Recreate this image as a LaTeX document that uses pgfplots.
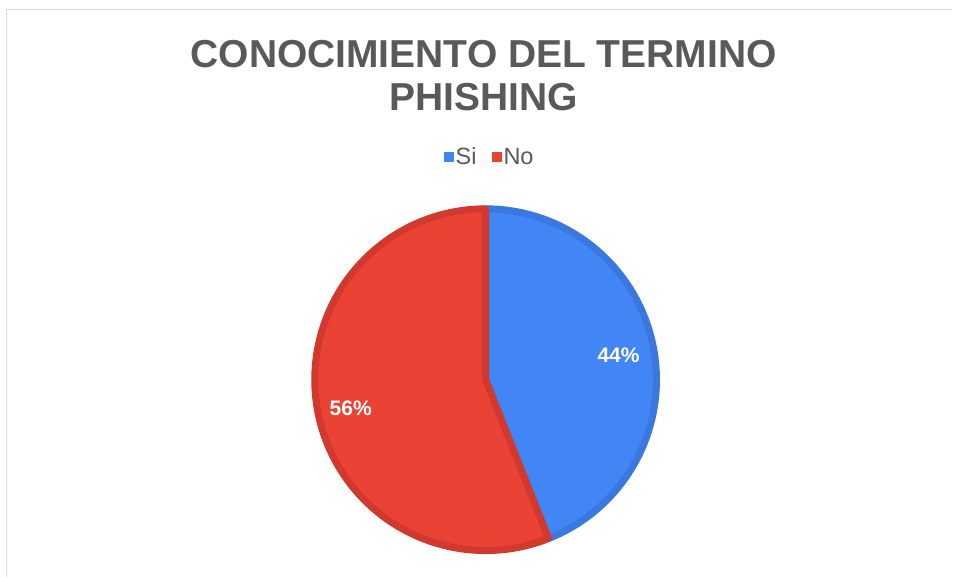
\documentclass[border=0pt]{standalone}
\usepackage{pgfplots}
\pgfplotsset{compat=1.18}
\usepackage{fontspec}
\setmainfont{Liberation Sans}
\definecolor{pieBlue}{HTML}{4285F4}
\definecolor{pieBlueD}{HTML}{3A78E0}
\definecolor{pieRed}{HTML}{EA4335}
\definecolor{pieRedD}{HTML}{D2392E}
\definecolor{titleGray}{HTML}{595959}
\definecolor{frameGray}{HTML}{D9D9D9}
\def\vSi{44}
\def\vNo{56}
\begin{document}
\begin{tikzpicture}
\pgfmathsetmacro\aStart{90}
\pgfmathsetmacro\aMid{90-3.6*\vSi}
\pgfmathsetmacro\aEnd{\aMid-3.6*\vNo}
\begin{axis}[scale only axis, width=953pt, height=577pt,
  xmin=0, xmax=953, ymin=-577, ymax=0, hide axis, clip=false,
  legend style={at={(axis cs:490,-157)}, anchor=center, draw=none, fill=none,
    legend columns=2, font=\fontsize{23.5}{26}\selectfont\color{titleGray},
    /tikz/every even column/.append style={column sep=14pt},
    /tikz/every odd column/.append style={column sep=0pt},
    /tikz/every node/.append style={inner xsep=1.5pt}},
  legend cell align=left]
\path (axis cs:0,0) rectangle (axis cs:953,-577);
\draw[frameGray, line width=1.5pt] (axis cs:6.5,-577) -- (axis cs:6.5,-9.5) -- (axis cs:953,-9.5);
\addplot[fill=pieBlue, draw=pieBlueD, line width=7pt, line join=round,
  domain=\aMid:\aStart, samples=150, variable=\t,
  legend image code/.code={\path[fill=pieBlue, draw=none] (0pt,-5pt) rectangle (10pt,5pt);}]
  ({486+171*cos(\t)},{-380+171*sin(\t)}) -- (axis cs:486,-380) -- cycle;
\addlegendentry{Si}
\addplot[fill=pieRed, draw=pieRedD, line width=7pt, line join=round,
  domain=\aEnd:\aMid, samples=150, variable=\t,
  legend image code/.code={\path[fill=pieRed, draw=none] (0pt,-5pt) rectangle (10pt,5pt);}]
  ({486+171*cos(\t)},{-380+171*sin(\t)}) -- (axis cs:486,-380) -- cycle;
\addlegendentry{No}
\node[anchor=base, text=titleGray, font=\bfseries\fontsize{39}{44}\selectfont] at (axis cs:484,-68) {CONOCIMIENTO DEL TERMINO};
\node[anchor=base, text=titleGray, font=\bfseries\fontsize{39}{44}\selectfont] at (axis cs:484,-111) {PHISHING};
\node[text=white, font=\bfseries\fontsize{21}{24}\selectfont] at (axis cs:619,-356) {44\%};
\node[text=white, font=\bfseries\fontsize{21}{24}\selectfont] at (axis cs:351,-409) {56\%};
\end{axis}
\end{tikzpicture}
\end{document}
